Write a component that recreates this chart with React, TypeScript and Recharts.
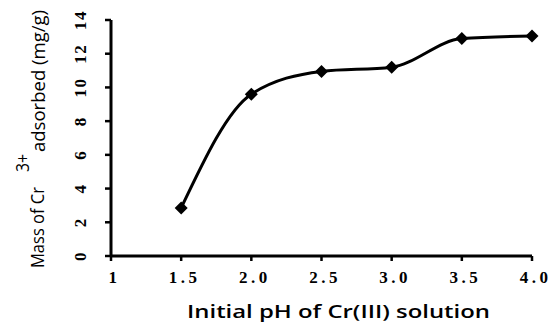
import { LineChart, Line, XAxis, YAxis } from "recharts";

const phValues = [1.5, 2.0, 2.5, 3.0, 3.5, 4.0];
const massAdsorbed = [2.85, 9.6, 10.95, 11.2, 12.9, 13.05];
const xTicks = [1, 1.5, 2.0, 2.5, 3.0, 3.5, 4.0];
const yTicks = [0, 2, 4, 6, 8, 10, 12, 14];

const data = phValues.map((ph, i) => ({ ph, mass: massAdsorbed[i] }));

const serif = "'Liberation Serif', 'Times New Roman', serif";
const sans = "'Open Sans', 'Noto Sans', sans-serif";

function Diamond(props: any) {
  const { cx, cy } = props;
  if (cx == null || cy == null) return null;
  const r = 6.5;
  return (
    <polygon
      points={`${cx},${cy - r} ${cx + r},${cy} ${cx},${cy + r} ${cx - r},${cy}`}
      fill="#000"
    />
  );
}

function renderXTick(props: any) {
  const { x, y, payload } = props;
  const v = payload.value as number;
  const label = v === 1 ? "1" : v.toFixed(1);
  return (
    <text
      key={`xt-${v}`}
      x={x + 3.5}
      y={y + 20}
      textAnchor="middle"
      fontFamily={serif}
      fontWeight="bold"
      fontSize={17}
      letterSpacing={3.5}
      fill="#000"
    >
      {label}
    </text>
  );
}

// y tick labels are turned on their side, reading bottom to top
function renderYTick(props: any) {
  const { x, y, payload } = props;
  const px = x - 17;
  return (
    <text
      key={`yt-${payload.value}`}
      x={px}
      y={y}
      transform={`rotate(-90 ${px} ${y})`}
      textAnchor="middle"
      fontFamily={serif}
      fontWeight="bold"
      fontSize={17}
      letterSpacing={1.5}
      fill="#000"
    >
      {String(payload.value)}
    </text>
  );
}

function YTitle() {
  const common = {
    fontFamily: sans,
    fontSize: 17.5,
    fill: "#000",
    lengthAdjust: "spacingAndGlyphs" as const,
  };
  return (
    <g>
      <text x={44} y={268} transform="rotate(-90 44 268)" textLength={81} {...common}>
        Mass of Cr
      </text>
      <text x={29} y={172} transform="rotate(-90 29 172)" textLength={18} {...common}>
        3+
      </text>
      <text x={45} y={152} transform="rotate(-90 45 152)" textLength={142} {...common}>
        adsorbed (mg/g)
      </text>
    </g>
  );
}

function XTitle() {
  return (
    <text
      x={187}
      y={318}
      fontFamily={sans}
      fontWeight={600}
      fontSize={18.5}
      textLength={303}
      lengthAdjust="spacingAndGlyphs"
      fill="#000"
    >
      Initial pH of Cr(III) solution
    </text>
  );
}

export default function App() {
  return (
    <div style={{ position: "absolute", left: 0, top: 0, background: "#fff" }}>
      <LineChart
        width={553}
        height={322}
        data={data}
        margin={{ top: 20, right: 21, bottom: 0, left: 0 }}
      >
        <XAxis
          dataKey="ph"
          type="number"
          domain={[1, 4]}
          ticks={xTicks}
          interval={0}
          height={66}
          stroke="#000"
          axisLine={{ stroke: "#000", strokeWidth: 3 }}
          tickLine={{ stroke: "#000", strokeWidth: 2.5 }}
          tickSize={5}
          tick={renderXTick}
          label={{ content: () => <XTitle /> }}
        />
        <YAxis
          type="number"
          domain={[0, 14]}
          ticks={yTicks}
          interval={0}
          width={111}
          stroke="#000"
          axisLine={{ stroke: "#000", strokeWidth: 3 }}
          tickLine={{ stroke: "#000", strokeWidth: 2.5 }}
          tickSize={6}
          tick={renderYTick}
          label={{ content: () => <YTitle /> }}
        />
        <Line
          type="monotone"
          dataKey="mass"
          stroke="#000"
          strokeWidth={3}
          dot={<Diamond />}
          activeDot={false}
          isAnimationActive={false}
        />
      </LineChart>
    </div>
  );
}
